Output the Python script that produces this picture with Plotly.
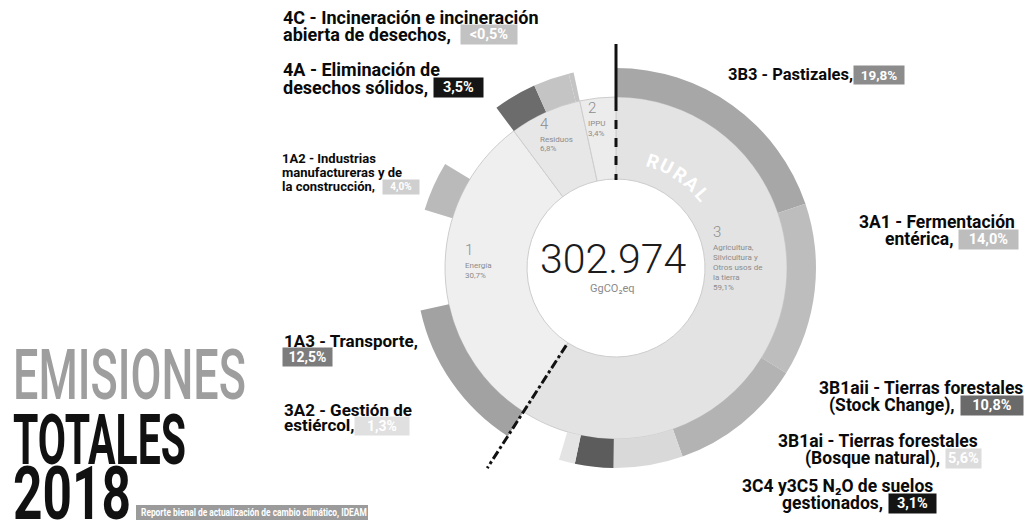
import json
import math
import plotly.graph_objects as go

W, H = 1027, 525

# ---- data -------------------------------------------------------------
TOTAL_EMISSIONS = "302.974"
TOTAL_UNIT = "GgCO\u2082eq"

# Sector shares (% of total), clockwise from 12 o'clock
sector_codes = ["3", "1", "4", "2"]
sector_names = [
    ["Agricultura,", "Silvicultura y", "Otros usos de", "la tierra"],
    ["Energ\u00eda"],
    ["Residuos"],
    ["IPPU"],
]
sector_shares = [59.1, 30.7, 6.8, 3.4]

# Subcategory shares (% of total) for the outer band, same clockwise order.
# Codes without a colour below are the remaining, unhighlighted parts of a sector.
sub_codes = ["3B3", "3A1", "3B1aii", "3B1ai", "3C4y3C5", "3A2", "3-otras",
             "1A3", "1-otras-a", "1A2", "1-otras-b",
             "4A", "4D", "4C", "2-IPPU"]
sub_shares = [19.8, 14.0, 10.8, 5.6, 3.1, 1.3, 4.5,
              12.5, 8.1, 4.0, 6.1,
              3.5, 2.9, 0.4, 3.4]

# Callout texts for the highlighted subcategories
callout_lines = {
    "4C": ["4C - Incineraci\u00f3n e incineraci\u00f3n", "abierta de desechos,"],
    "4A": ["4A - Eliminaci\u00f3n de", "desechos s\u00f3lidos,"],
    "1A2": ["1A2 - Industrias", "manufactureras y de", "la construcci\u00f3n,"],
    "1A3": ["1A3 - Transporte,"],
    "3A2": ["3A2 - Gesti\u00f3n de", "esti\u00e9rcol,"],
    "3B3": ["3B3 - Pastizales,"],
    "3A1": ["3A1 - Fermentaci\u00f3n", "ent\u00e9rica,"],
    "3B1aii": ["3B1aii - Tierras forestales", "(Stock Change),"],
    "3B1ai": ["3B1ai - Tierras forestales", "(Bosque natural),"],
    "3C4y3C5": ["3C4 y3C5 N\u2082O de suelos", "gestionados,"],
}
value_overrides = {"4C": "<0,5%"}

TITLE_LINES = ["EMISIONES", "TOTALES", "2018"]
SOURCE = "Reporte bienal de actualizaci\u00f3n de cambio clim\u00e1tico, IDEAM"

# ---- styling ----------------------------------------------------------
sector_colors = ["#e3e3e3", "#efefef", "#e7e7e7", "#ececec"]
CLEAR = "rgba(0,0,0,0)"
sub_colors = {
    "3B3": "#a7a7a7", "3A1": "#bdbdbd", "3B1aii": "#b3b3b3", "3B1ai": "#d9d9d9",
    "3C4y3C5": "#5c5c5c", "3A2": "#e4e4e4", "1A3": "#a2a2a2", "1A2": "#bababa",
    "4A": "#6c6c6c", "4D": "#c4c4c4", "4C": "#c4c4c4",
}
box_colors = {
    "4C": "#c2c2c2", "4A": "#151515", "1A2": "#cfcfcf", "1A3": "#7c7c7c",
    "3A2": "#e0e0e0", "3B3": "#8c8c8c", "3A1": "#bdbdbd", "3B1aii": "#6a6a6a",
    "3B1ai": "#dcdcdc", "3C4y3C5": "#141414",
}

CX, CY = 616, 268
R_OUT, R_BAND, R_HOLE = 200, 171, 89

FONT = "Roboto"


def fx(x):
    return x / W


def fy(y):
    return 1 - y / H


def polar(theta_deg, r):
    t = math.radians(theta_deg)
    return CX + r * math.sin(t), CY - r * math.cos(t)


def pct(v):
    return f"{v:.1f}%".replace(".", ",")


def note(x, y, text, xanchor="left", **kw):
    return dict(x=fx(x), y=fy(y), xref="paper", yref="paper", text=text,
                showarrow=False, xanchor=xanchor, yanchor="middle", **kw)


fig = go.Figure()

# inner ring: sectors
fig.add_trace(go.Pie(
    values=sector_shares,
    labels=[" ".join(n) for n in sector_names],
    sort=False, direction="clockwise", rotation=0,
    hole=R_HOLE / R_BAND,
    marker=dict(colors=sector_colors, line=dict(color="#cdcdcd", width=1)),
    textinfo="none", hoverinfo="label+value", showlegend=False,
    domain=dict(x=[fx(CX - R_BAND), fx(CX + R_BAND)],
                y=[fy(CY + R_BAND), fy(CY - R_BAND)]),
))

# outer band: subcategories
fig.add_trace(go.Pie(
    values=sub_shares, labels=sub_codes,
    sort=False, direction="clockwise", rotation=0,
    hole=R_BAND / R_OUT,
    marker=dict(colors=[sub_colors.get(c, CLEAR) for c in sub_codes],
                line=dict(width=0)),
    textinfo="none", hoverinfo="label+value", showlegend=False,
    domain=dict(x=[fx(CX - R_OUT), fx(CX + R_OUT)],
                y=[fy(CY + R_OUT), fy(CY - R_OUT)]),
))

shapes = []
annotations = []

# urban / rural divider lines on the sector boundaries
rural_end = 360 * sector_shares[0] / sum(sector_shares)
x0, y0 = polar(0, 224)
x1, y1 = polar(0, 166)
x2, y2 = polar(0, 88)
shapes.append(dict(type="line", xref="paper", yref="paper",
                   x0=fx(x0), y0=fy(y0), x1=fx(x1), y1=fy(y1),
                   line=dict(color="#111", width=3)))
shapes.append(dict(type="line", xref="paper", yref="paper",
                   x0=fx(x1), y0=fy(y1), x1=fx(x2), y1=fy(y2),
                   line=dict(color="#111", width=3, dash="dash")))
b0x, b0y = polar(rural_end, 92)
b1x, b1y = polar(rural_end, 238)
shapes.append(dict(type="line", xref="paper", yref="paper",
                   x0=fx(b0x), y0=fy(b0y), x1=fx(b1x), y1=fy(b1y),
                   line=dict(color="#111", width=3, dash="dashdot")))

# curved "RURAL" inside the ring
for i, ch in enumerate("RURAL"):
    ang = 19 + i * 7.6
    lx, ly = polar(ang, 113)
    annotations.append(note(lx, ly, ch, xanchor="center", textangle=ang,
                            font=dict(family=FONT, size=19, color="white", weight=700)))

# center total
annotations.append(note(CX - 3, 259, TOTAL_EMISSIONS, xanchor="center",
                        font=dict(family=FONT, size=41, color="#1c1c1c", weight=300)))
annotations.append(note(CX - 4, 288, TOTAL_UNIT, xanchor="center",
                        font=dict(family=FONT, size=11, color="#8a8a8a")))

# sector labels in the inner ring
sector_label_pos = {"3": (711, 232), "1": (463, 250), "4": (538, 124), "2": (586, 108)}
for code, names, share in zip(sector_codes, sector_names, sector_shares):
    sx, sy = sector_label_pos[code]
    annotations.append(note(sx, sy, code,
                            font=dict(family=FONT, size=15, color="#8c8c8c", weight=300)))
    yy = sy + 15
    for n in names + [pct(share)]:
        annotations.append(note(sx, yy, n, font=dict(family=FONT, size=8, color="#8c8c8c")))
        yy += 10

# callouts: (line anchor, [(x, y) per line], (box left, box right, box y), font size)
callout_layout = {
    "4C": ("left", [(281, 17), (281, 35)], (460, 516, 35), 18),
    "4A": ("left", [(281, 70), (281, 87)], (433, 482, 87), 18),
    "1A2": ("left", [(280, 158), (280, 172), (280, 186)], (382, 418, 187), 13),
    "1A3": ("left", [(282, 341)], (282, 331, 357), 17),
    "3A2": ("left", [(282, 410), (282, 425)], (354, 408, 426), 17),
    "3B3": ("left", [(726, 75)], (853, 903, 75), 16.5),
    "3A1": ("right", [(1017, 222), (955, 239)], (958, 1017, 240), 17.5),
    "3B1aii": ("right", [(1025, 388), (957, 405)], (960, 1022, 405), 17.5),
    "3B1ai": ("right", [(980, 441), (942, 458)], (945, 980, 458), 17.5),
    "3C4y3C5": ("right", [(935, 486), (885, 503)], (888, 935, 503), 17.5),
}
share_by_code = dict(zip(sub_codes, sub_shares))
for code, lines in callout_lines.items():
    anchor, pos, (bl, br, by), fs = callout_layout[code]
    for text, (lx, ly) in zip(lines, pos):
        annotations.append(note(lx, ly, text, xanchor=anchor,
                                font=dict(family=FONT, size=fs, color="#0a0a0a", weight=700)))
    vtxt = value_overrides.get(code, pct(share_by_code[code]))
    annotations.append(note(bl, by, vtxt, width=br - bl - 2, align="center",
                            bgcolor=box_colors[code], borderpad=1,
                            font=dict(family=FONT, size=min(fs - 3, 14.5), color="white",
                                      weight=700)))

# big title, reshaped by the script below to condensed proportions
title_style = [  # colour, weight, size, centre y, target width, vertical stretch
    ("#9e9e9e", 500, 52, 375, 233, 1.35),
    ("#111111", 700, 52, 440, 173, 1.35),
    ("#111111", 700, 52, 493, 118, 1.43),
]
reshape = {}
for text, (col, wt, size, ty, tw, sy) in zip(TITLE_LINES, title_style):
    annotations.append(note(11, ty, text,
                            font=dict(family=FONT, size=size, color=col, weight=wt)))
    reshape[text] = [tw, sy]

# source tag
shapes.append(dict(type="rect", xref="paper", yref="paper",
                   x0=fx(136), x1=fx(368), y0=fy(520), y1=fy(505),
                   fillcolor="#9b9b9b", line=dict(width=0), layer="below"))
annotations.append(note(139, 512.5, SOURCE,
                        font=dict(family=FONT, size=10, color="white", weight=700)))
reshape[SOURCE] = [226, 1.0]

fig.update_layout(
    width=W, height=H,
    margin=dict(l=0, r=0, t=0, b=0),
    paper_bgcolor="white", plot_bgcolor="white",
    showlegend=False,
    shapes=shapes, annotations=annotations,
)

# condense the title texts to fixed widths and stretch them vertically
reshape_js = """
var spec = %s;
function reshape() {
  document.querySelectorAll('text.annotation-text').forEach(function (t) {
    var key = t.textContent;
    if (spec.hasOwnProperty(key)) {
      t.removeAttribute('transform');
      var b = t.getBBox();
      if (b.width > 0) {
        var sx = spec[key][0] / b.width, sy = spec[key][1];
        var cy = b.y + b.height / 2;
        t.setAttribute('transform', 'translate(' + b.x + ' ' + cy + ') scale(' + sx + ' ' + sy +
                       ') translate(' + (-b.x) + ' ' + (-cy) + ')');
      }
    }
  });
}
reshape();
if (document.fonts && document.fonts.ready) { document.fonts.ready.then(reshape); }
""" % json.dumps(reshape)

fig.write_html("out.html", post_script=reshape_js)
